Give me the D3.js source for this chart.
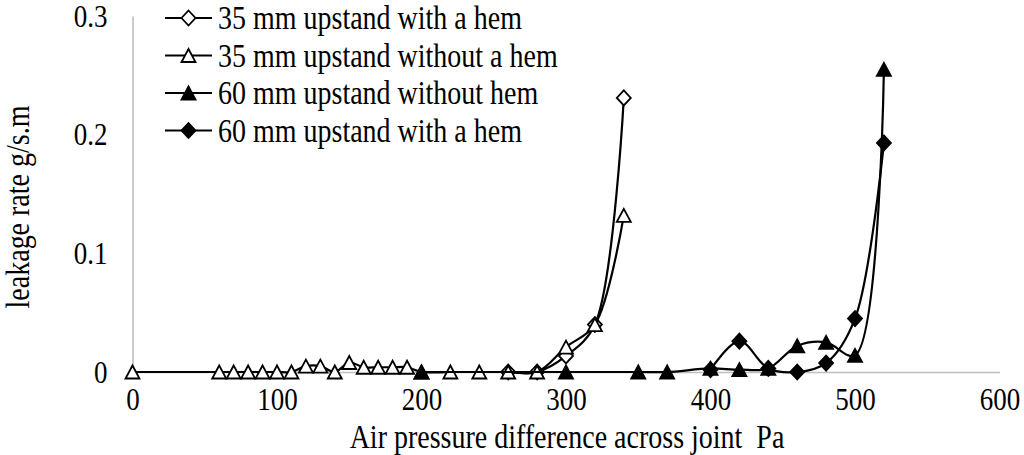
<!DOCTYPE html>
<html>
<head>
<meta charset="utf-8">
<script src="https://cdn.jsdelivr.net/npm/d3@7"></script>
<style>
  body { margin: 0; background: #fff; }
  svg { display: block; font-family: "Liberation Serif", "Times New Roman", serif; }
</style>
</head>
<body>
<div id="chart"></div>
<script>
// chart size
const width = 1024;
const height = 455;

// x tick labels
const xTicks = [0, 100, 200, 300, 400, 500, 600];
const yTicks = [0, 0.1, 0.2, 0.3];

// 35 mm upstand with a hem (open diamond)
const hem35X = [260, 280, 300, 320, 340];
const hem35Y = [0, 0, 0.0135, 0.04, 0.231];

// 35 mm upstand without a hem (open triangle)
const noHem35X = [0, 60, 70, 80, 90, 100, 110, 120, 130, 140, 150, 160, 170, 180, 190, 200, 220, 240, 260, 280, 300, 320, 340];
const noHem35Y = [0, 0, 0, 0, 0, 0, 0, 0.005, 0.005, 0, 0.008, 0.004, 0.004, 0.004, 0.004, 0, 0, 0, 0, 0, 0.021, 0.04, 0.132];

// 60 mm upstand without hem (filled triangle)
const noHem60X = [200, 300, 350, 370, 400, 420, 440, 460, 480, 500, 520];
const noHem60Y = [0, 0, 0, 0, 0.003, 0.002, 0.003, 0.022, 0.025, 0.014, 0.255];

// 60 mm upstand with a hem (filled diamond)
const hem60X = [400, 420, 440, 460, 480, 500, 520];
const hem60Y = [0.002, 0.026, 0.003, 0, 0.0075, 0.045, 0.193];

const seriesNames = [
  "35 mm upstand with a hem",
  "35 mm upstand without a hem",
  "60 mm upstand without hem",
  "60 mm upstand with a hem",
];

// build series list (drawing order same as Excel)
const series = [
  { name: seriesNames[0], xs: hem35X, ys: hem35Y, shape: "diamond", fill: "#fff" },
  { name: seriesNames[1], xs: noHem35X, ys: noHem35Y, shape: "triangle", fill: "#fff" },
  { name: seriesNames[2], xs: noHem60X, ys: noHem60Y, shape: "triangle", fill: "#000" },
  { name: seriesNames[3], xs: hem60X, ys: hem60Y, shape: "diamond", fill: "#000" },
];

const x = d3.scaleLinear().domain([0, 600]).range([132.5, 999.5]);
const y = d3.scaleLinear().domain([0, 0.3]).range([372, 16]);

const svg = d3.select("#chart")
  .append("svg")
  .attr("width", width)
  .attr("height", height);

// the original's serif text is taller than it is wide, stretch it a bit
function stretch(sel, k) {
  sel.each(function () {
    const b = this.getBBox();
    const cy = b.y + b.height / 2;
    d3.select(this).attr("transform", `translate(0,${cy}) scale(1,${k}) translate(0,${-cy})`);
  });
}

// axes
const xAxis = svg.append("g")
  .attr("transform", `translate(0,${y(0)})`)
  .call(d3.axisBottom(x).tickValues(xTicks).tickSize(0).tickPadding(17).tickFormat(d3.format("d")));

const yAxis = svg.append("g")
  .attr("transform", `translate(${x(0)},0)`)
  .call(d3.axisLeft(y).tickValues(yTicks).tickSize(0).tickPadding(25).tickFormat(d => d === 0 ? "0" : d3.format(".1f")(d)));

[xAxis, yAxis].forEach(g => {
  g.select(".domain").attr("stroke", "#bfbfbf").attr("stroke-width", 1.6);
  g.selectAll("text")
    .attr("fill", "#000")
    .style("font-family", "'Liberation Serif', 'Times New Roman', serif")
    .style("font-size", "27px")
    .call(stretch, 1.18);
});

// axis titles
svg.append("text")
  .attr("x", 567)
  .attr("y", 446)
  .attr("text-anchor", "middle")
  .style("font-size", "28px")
  .text("Air pressure difference across joint\u00a0 Pa")
  .call(stretch, 1.18);

svg.append("text")
  .attr("transform", "translate(29,207) rotate(-90) scale(1,1.18)")
  .attr("text-anchor", "middle")
  .style("font-size", "28px")
  .text("leakage rate g/s.m");

// marker shapes
const triangle = d3.symbol().type(() => ({
  draw(ctx) {
    ctx.moveTo(0, -6.5);
    ctx.lineTo(7, 6.5);
    ctx.lineTo(-7, 6.5);
    ctx.closePath();
  }
}));
const diamond = d3.symbol().type(() => ({
  draw(ctx) {
    ctx.moveTo(0, -7.5);
    ctx.lineTo(7, 0);
    ctx.lineTo(0, 7.5);
    ctx.lineTo(-7, 0);
    ctx.closePath();
  }
}));
const markerPath = s => s.shape === "triangle" ? triangle() : diamond();

const line = d3.line()
  .x(d => x(d[0]))
  .y(d => y(d[1]))
  .curve(d3.curveCatmullRom.alpha(0.5));

// lines and markers, one series at a time
series.forEach(s => {
  const pts = s.xs.map((v, i) => [v, s.ys[i]]);
  const g = svg.append("g");
  g.append("path")
    .attr("d", line(pts))
    .attr("fill", "none")
    .attr("stroke", "#000")
    .attr("stroke-width", 2.2);
  g.selectAll("path.marker")
    .data(pts)
    .enter()
    .append("path")
    .attr("class", "marker")
    .attr("transform", d => `translate(${x(d[0])},${y(d[1])})`)
    .attr("d", markerPath(s))
    .attr("fill", s.fill)
    .attr("stroke", "#000")
    .attr("stroke-width", 1.8);
});

// legend
const legend = svg.append("g");
series.forEach((s, i) => {
  const ly = 18 + i * 37.5;
  legend.append("line")
    .attr("x1", 165).attr("x2", 212)
    .attr("y1", ly).attr("y2", ly)
    .attr("stroke", "#000")
    .attr("stroke-width", 2.2);
  legend.append("path")
    .attr("transform", `translate(188.5,${ly})`)
    .attr("d", markerPath(s))
    .attr("fill", s.fill)
    .attr("stroke", "#000")
    .attr("stroke-width", 1.8);
  legend.append("text")
    .attr("x", 218)
    .attr("y", ly)
    .attr("dy", "0.35em")
    .style("font-size", "28px")
    .text(s.name)
    .call(stretch, 1.18);
});
</script>
</body>
</html>
